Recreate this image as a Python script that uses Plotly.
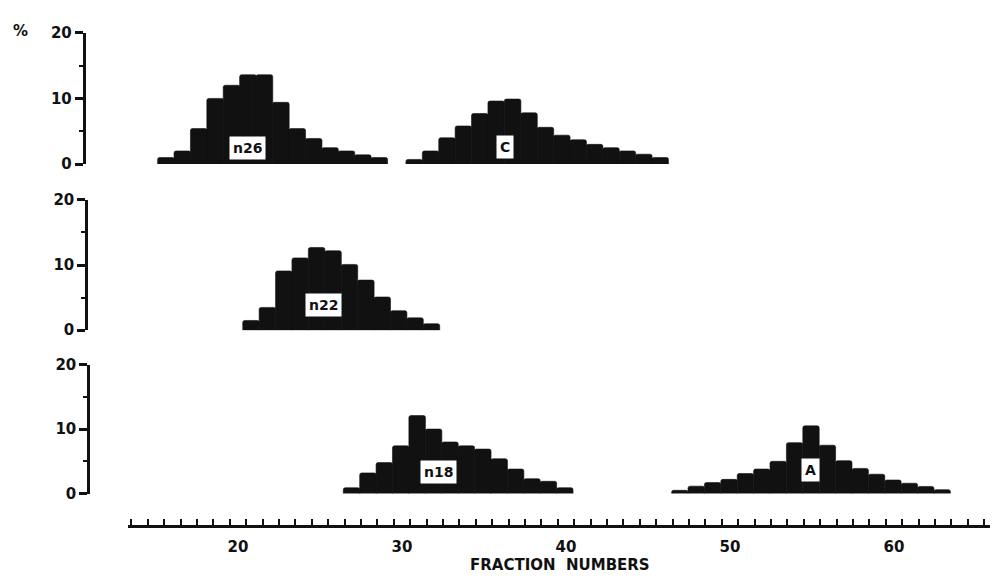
import plotly.graph_objects as go

# ---------------- data ----------------
n26_fraction = list(range(16, 30))
n26_percent = [1.0, 2.0, 5.4, 10.0, 12.0, 13.6, 13.6, 9.4, 5.4, 3.9, 2.5, 2.0, 1.4, 1.0]

c_fraction = list(range(31, 47))
c_percent = [0.7, 2.0, 4.0, 5.8, 7.7, 9.6, 9.9, 7.8, 5.6, 4.4, 3.7, 3.0, 2.5, 2.0, 1.5, 1.0]

n22_fraction = list(range(21, 33))
n22_percent = [1.5, 3.5, 9.1, 11.1, 12.7, 12.2, 10.1, 7.7, 5.1, 3.0, 1.9, 1.0]

n18_fraction = list(range(27, 41))
n18_percent = [0.9, 3.2, 4.8, 7.4, 12.1, 10.0, 8.0, 7.4, 6.9, 5.4, 3.8, 2.3, 1.9, 0.9]

a_fraction = list(range(47, 64))
a_percent = [0.5, 1.15, 1.7, 2.2, 3.1, 3.8, 5.0, 7.9, 10.5, 7.5, 5.1, 3.9, 3.0, 2.1, 1.6, 1.1, 0.6]

x_tick_values = [20, 30, 40, 50, 60]
y_tick_values = [0, 10, 20]

series_labels = ["n26", "C", "n22", "n18", "A"]

# ---------------- layout helpers ----------------
W, H = 996, 582
FONT = "DejaVu Sans"
INK = "#111111"


def fx(p):
    return p / W


def fy(p):
    return 1 - p / H


fig = go.Figure()

traces = [
    (n26_fraction, n26_percent, "y", -0.90, 1.02),
    (c_fraction, c_percent, "y", -0.76, 1.01),
    (n22_fraction, n22_percent, "y2", -0.71, 1.01),
    (n18_fraction, n18_percent, "y3", -0.58, 1.01),
    (a_fraction, a_percent, "y3", -0.56, 1.0),
]
for (xs, ys, yref, off, wid), name in zip(traces, series_labels):
    fig.add_trace(go.Bar(
        x=xs, y=ys, xaxis="x", yaxis=yref, name=name,
        offset=off, width=wid,
        marker=dict(color=INK, line=dict(width=0.6, color=INK), cornerradius=2),
        showlegend=False, hoverinfo="x+y",
    ))

label_pos = [
    (20.55, 2.4, "y"),
    (36.3, 2.6, "y"),
    (25.2, 3.9, "y2"),
    (32.2, 3.3, "y3"),
    (54.9, 3.6, "y3"),
]
annotations = []
for name, (ax, ay, yr) in zip(series_labels, label_pos):
    annotations.append(dict(
        x=ax, y=ay, xref="x", yref=yr, text=name, showarrow=False,
        xanchor="center", yanchor="middle",
        bgcolor="white", borderpad=3,
        font=dict(family=FONT, size=14, color=INK, weight="bold"),
    ))

annotations.append(dict(
    x=fx(20), y=fy(23), xref="paper", yref="paper", text="%", showarrow=False,
    xanchor="center", yanchor="middle",
    font=dict(family=FONT, size=15, color=INK, weight="bold"),
))
annotations.append(dict(
    x=fx(560), y=fy(574), xref="paper", yref="paper", text="FRACTION  NUMBERS",
    showarrow=False, xanchor="center", yanchor="middle",
    font=dict(family=FONT, size=15, color=INK, weight="bold"),
))


def yaxis(domain, pos):
    return dict(
        domain=domain, range=[0, 20], anchor="free", position=pos,
        showgrid=False, zeroline=False, showline=True, linewidth=2.5, linecolor=INK,
        tickmode="array", tickvals=y_tick_values, ticks="outside", ticklen=8,
        tickwidth=2.5, tickcolor=INK,
        tickfont=dict(family=FONT, size=15, color=INK, weight="bold"),
        minor=dict(tickmode="array", tickvals=[5, 15], ticks="outside", ticklen=4,
                   tickwidth=2, tickcolor=INK),
        fixedrange=True,
    )


def capaxis(over, pos):
    return dict(
        overlaying=over, range=[0, 20], anchor="free", position=pos,
        showgrid=False, zeroline=False, showline=False,
        tickmode="array", tickvals=[0, 20], ticks="inside", ticklen=8,
        tickwidth=2.5, tickcolor=INK, showticklabels=False,
    )


top_dom = [fy(160), fy(24.5)]
mid_dom = [fy(331.5), fy(197)]
bot_dom = [fy(500), fy(367)]
top_pos, mid_pos, bot_pos = fx(83.5), fx(86), fx(88)

fig.update_layout(
    width=W, height=H,
    margin=dict(l=0, r=0, t=0, b=0),
    paper_bgcolor="white", plot_bgcolor="rgba(0,0,0,0)",
    barmode="overlay",
    xaxis=dict(
        domain=[fx(128), fx(990)], range=[13.293, 65.854],
        anchor="free", position=fy(534),
        showgrid=False, zeroline=False, showline=True, linewidth=2.5, linecolor=INK,
        tickmode="array", tickvals=x_tick_values, ticks="", ticklabelstandoff=6,
        tickfont=dict(family=FONT, size=15, color=INK, weight="bold"),
        minor=dict(tickmode="linear", tick0=0.5, dtick=1, ticks="inside", ticklen=7,
                   tickwidth=1.8, tickcolor=INK),
        fixedrange=True,
    ),
    yaxis=yaxis(top_dom, top_pos),
    yaxis2=yaxis(mid_dom, mid_pos),
    yaxis3=yaxis(bot_dom, bot_pos),
    yaxis4=capaxis("y", top_pos),
    yaxis5=capaxis("y2", mid_pos),
    yaxis6=capaxis("y3", bot_pos),
    annotations=annotations,
)

fig.write_html(
    "out.html",
    config={"displayModeBar": False},
    post_script=(
        "document.documentElement.style.margin='0';"
        "document.documentElement.style.overflow='hidden';"
        "document.body.style.margin='0';"
        "document.body.style.overflow='hidden';"
    ),
)
